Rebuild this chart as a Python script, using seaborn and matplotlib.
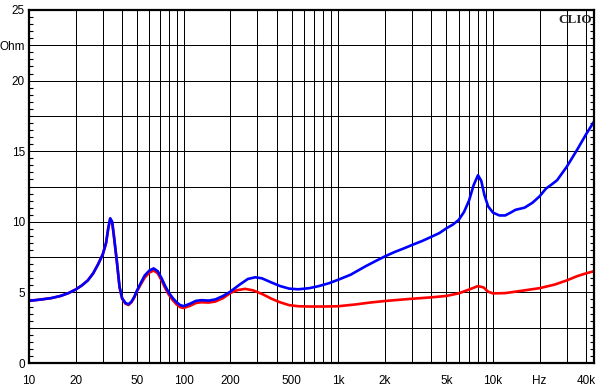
import numpy as np
import pandas as pd
import seaborn as sns
import matplotlib.pyplot as plt
from matplotlib.ticker import FixedLocator, MultipleLocator

sns.set_style("white")
plt.rcParams["font.family"] = ["Liberation Sans", "DejaVu Sans"]

# impedance curves (Hz, Ohm)
blue_freq = [10, 12, 14, 16, 18, 20, 22, 24, 26, 28, 30, 31.5, 32.5, 33.5, 34.5,
             35.5, 37, 38.5, 40, 42, 44, 46, 48, 50, 53, 56, 60, 64, 68, 72, 76,
             80, 85, 90, 95, 100, 110, 120, 130, 145, 160, 180, 200, 230, 260,
             290, 320, 370, 420, 480, 550, 650, 750, 870, 1000, 1200, 1500,
             1800, 2000, 2300, 2700, 3000, 3500, 4000, 4500, 5000, 5500, 6000,
             6500, 7000, 7500, 8000, 8400, 8800, 9300, 10000, 11000, 12000,
             13000, 14000, 16000, 18000, 20000, 22000, 24000, 26000, 30000,
             35000, 40000, 45000]
blue_ohm = [4.4, 4.5, 4.6, 4.75, 4.95, 5.2, 5.5, 5.85, 6.35, 7.0, 7.7, 8.5, 9.5,
            10.25, 10.0, 8.9, 7.2, 5.4, 4.6, 4.25, 4.16, 4.35, 4.7, 5.15, 5.7,
            6.2, 6.55, 6.7, 6.5, 6.0, 5.45, 5.0, 4.6, 4.3, 4.1, 4.03, 4.2, 4.4,
            4.45, 4.42, 4.5, 4.75, 5.05, 5.55, 5.95, 6.07, 6.0, 5.7, 5.45, 5.27,
            5.22, 5.3, 5.45, 5.65, 5.9, 6.25, 6.85, 7.3, 7.55, 7.85, 8.15,
            8.36, 8.65, 8.94, 9.2, 9.54, 9.8, 10.13, 10.7, 11.5, 12.6, 13.3,
            12.9, 11.9, 11.1, 10.65, 10.45, 10.45, 10.65, 10.85, 11.0, 11.35,
            11.8, 12.35, 12.65, 12.95, 13.9, 15.1, 16.2, 17.1]

red_freq = [10, 12, 14, 16, 18, 20, 22, 24, 26, 28, 30, 31.5, 32.5, 33.5, 34.5,
            35.5, 37, 38.5, 40, 42, 44, 46, 48, 50, 53, 56, 60, 64, 68, 72, 76,
            80, 85, 90, 95, 100, 110, 120, 130, 145, 160, 180, 200, 220, 250,
            280, 320, 370, 420, 480, 550, 650, 800, 1000, 1300, 1600, 2000,
            2500, 3000, 4000, 5000, 6000, 7000, 8000, 8700, 9300, 10000, 12000,
            15000, 20000, 25000, 30000, 35000, 40000, 45000]
red_ohm = [4.4, 4.5, 4.6, 4.75, 4.95, 5.2, 5.5, 5.85, 6.35, 7.0, 7.7, 8.5, 9.5,
           10.2, 9.95, 8.85, 7.15, 5.35, 4.55, 4.2, 4.11, 4.3, 4.65, 5.1, 5.6,
           6.05, 6.4, 6.55, 6.35, 5.85, 5.3, 4.85, 4.45, 4.15, 3.95, 3.9, 4.05,
           4.25, 4.3, 4.28, 4.35, 4.6, 4.95, 5.15, 5.25, 5.15, 4.9, 4.55, 4.3,
           4.1, 4.02, 4.0, 4.0, 4.02, 4.15, 4.28, 4.39, 4.48, 4.55, 4.65, 4.75,
           4.93, 5.2, 5.45, 5.35, 5.05, 4.93, 4.95, 5.1, 5.3, 5.55, 5.85, 6.15,
           6.35, 6.5]

x_label_pos = [10, 20, 50, 100, 200, 500, 1000, 2000, 5000, 10000, 20000, 40000]
x_label_txt = ["10", "20", "50", "100", "200", "500", "1k", "2k", "5k", "10k",
               "Hz", "40k"]
y_label_pos = [0, 5, 10, 15, 20, 22.5, 25]
y_label_txt = ["0", "5", "10", "15", "20", "Ohm", "25"]

df = pd.concat([
    pd.DataFrame({"freq": red_freq, "ohm": red_ohm, "curve": "red"}),
    pd.DataFrame({"freq": blue_freq, "ohm": blue_ohm, "curve": "blue"}),
])

fig = plt.figure(figsize=(6.02, 3.89), dpi=100)
ax = fig.add_axes([29 / 602, 1 - 363 / 389, 565 / 602, 353 / 389])

sns.lineplot(data=df, x="freq", y="ohm", hue="curve", hue_order=["red", "blue"],
             palette={"red": "#ff0000", "blue": "#0000ff"}, linewidth=1.9,
             sort=False, legend=False, ax=ax)

ax.set_xscale("log")
ax.set_xlim(10, 45000)
ax.set_ylim(0, 25)

# grid lines
vgrid = [k * 10 ** n for n in range(1, 5) for k in range(1, 10) if k * 10 ** n <= 40000]
for v in vgrid:
    ax.axvline(v, color="black", lw=0.5, zorder=0, antialiased=False)
for h in np.arange(2.5, 25, 2.5):
    ax.axhline(h, color="black", lw=0.5, zorder=0, antialiased=False)

ax.xaxis.set_major_locator(FixedLocator(x_label_pos))
ax.xaxis.set_minor_locator(FixedLocator([]))
ax.set_xticklabels(x_label_txt)
ax.set_yticks(y_label_pos)
ax.set_yticklabels(y_label_txt)
ax.yaxis.set_minor_locator(MultipleLocator(0.5))
ax.tick_params(axis="x", length=0, pad=9, labelsize=8.5, colors="black")
ax.tick_params(axis="y", which="major", length=0, pad=3, labelsize=8.5, colors="black")
ax.tick_params(axis="y", which="minor", direction="in", length=3, width=0.8,
               left=True, right=True, color="black")
ax.set_xlabel("")
ax.set_ylabel("")

for s in ax.spines.values():
    s.set_linewidth(1.6)
    s.set_color("black")

ax.text(0.996, 0.99, "CLIO", transform=ax.transAxes, ha="right", va="top",
        fontsize=9.5, fontweight="bold", family=["Liberation Serif", "DejaVu Serif"])

fig.savefig("out.png", dpi=100)
